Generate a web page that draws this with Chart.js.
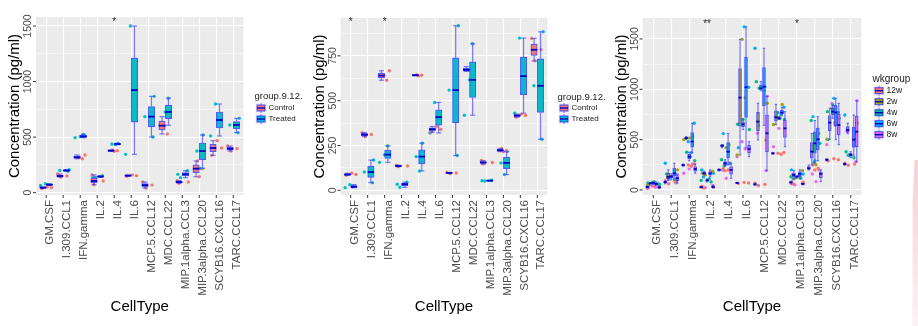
<!DOCTYPE html>
<html>
<head>
<meta charset="utf-8">
<script src="https://cdn.jsdelivr.net/npm/chart.js@4.4.1/dist/chart.umd.min.js"></script>
<style>
  html, body { margin: 0; padding: 0; background: #fff; }
  #wrap { position: relative; width: 918px; height: 326px; overflow: hidden; }
  #wrap canvas { position: absolute; top: 0; }
  #edge { position: absolute; left: 904px; top: 160px; width: 14px; height: 166px;
          background: linear-gradient(180deg, rgba(232,120,130,0.35), rgba(236,205,220,0.25));
          clip-path: polygon(75% 0, 100% 0, 100% 100%, 60% 100%, 62% 25%); }
</style>
</head>
<body>
<div id="wrap">
  <canvas id="c1" width="306" height="326" style="left:0"></canvas>
  <canvas id="c2" width="306" height="326" style="left:306px"></canvas>
  <canvas id="c3" width="306" height="326" style="left:612px"></canvas>
  <div id="edge"></div>
</div>
<script>
const cellTypes = ['GM.CSF', 'I.309.CCL1', 'IFN.gamma', 'IL.2', 'IL.4', 'IL.6', 'MCP.5.CCL12',
  'MDC.CCL22', 'MIP.1alpha.CCL3', 'MIP.3alpha.CCL20', 'SCYB16.CXCL16', 'TARC.CCL17'];

// first panel (group.9.12.), three samples per cell type
const control1 = [[38, 45, 52], [140, 150, 168], [305, 318, 339], [72, 105, 160], [372, 378, 384], [148, 153, 160],
  [42, 68, 96], [528, 603, 684], [84, 96, 108], [144, 216, 285], [336, 402, 468], [375, 396, 420]];
const treated1 = [[65, 72, 80], [193, 200, 207], [495, 505, 525], [138, 145, 153], [432, 438, 444], [345, 923, 1500],
  [501, 684, 867], [607, 726, 850], [135, 165, 198], [219, 375, 519], [510, 654, 798], [540, 609, 669]];
const signif1 = ['', '', '', '', '*', '', '', '', '', '', '', ''];

// second panel (group.9.12.)
const control2 = [[84, 88, 95], [300, 311, 322], [614, 640, 667], [132, 136, 140], [639, 642, 645], [324, 341, 356],
  [94, 97, 100], [663, 672, 690], [147, 155, 166], [216, 223, 233], [408, 417, 425], [722, 784, 847]];
const treated2 = [[15, 20, 32], [43, 102, 169], [156, 199, 248], [17, 34, 45], [108, 188, 263], [320, 408, 490],
  [194, 559, 918], [419, 616, 817], [52, 54, 56], [88, 153, 216], [430, 637, 849], [285, 583, 884]];
const signif2 = ['*', '', '*', '', '', '', '', '', '', '', '', ''];

// third panel (wkgroup)
const w12 = [[22, 30, 40], [62, 78, 90], [235, 248, 258], [20, 28, 36], [190, 199, 210], [65, 70, 75],
  [45, 56, 66], [355, 364, 372], [60, 76, 80], [199, 215, 248], [290, 300, 310], [245, 258, 265]];
const w2 = [[50, 66, 75], [95, 130, 200], [500, 515, 530], [150, 165, 185], [420, 440, 450], [348, 917, 1496],
  [497, 679, 861], [650, 722, 850], [115, 149, 192], [250, 381, 560], [503, 669, 811], [560, 596, 662]];
const w4 = [[55, 70, 80], [100, 132, 160], [290, 331, 375], [80, 95, 110], [238, 265, 300], [600, 652, 700],
  [986, 1010, 1076], [700, 712, 725], [119, 132, 140], [270, 463, 690], [712, 778, 844], [320, 348, 380]];
const w6 = [[45, 60, 80], [116, 165, 265], [371, 480, 662], [130, 165, 199], [250, 381, 560], [420, 1020, 1620],
  [642, 1026, 1407], [745, 768, 821], [110, 159, 200], [291, 503, 728], [500, 770, 910], [345, 500, 745]];
const w8 = [[15, 26, 40], [70, 116, 150], [166, 209, 258], [22, 30, 45], [116, 199, 265], [331, 407, 480],
  [192, 563, 930], [430, 612, 778], [52, 60, 66], [83, 159, 200], [450, 645, 860], [281, 579, 887]];
const signif3 = ['', '', '', '**', '', '', '', '', '*', '', '', ''];

const yTicks1 = [0, 500, 1000, 1500];
const yTicks2 = [0, 250, 500, 750];
const yTicks3 = [0, 500, 1000, 1500];

// horizontal spread of the sample dots around each cell type
const JITTER = [-0.26, 0.31, 0.06, -0.14, 0.22, -0.33, 0.12, -0.05, 0.28, -0.2, 0.35, -0.3, 0.0, 0.18, -0.1];

Chart.defaults.font.family = '"Liberation Sans", Arial, sans-serif';

function quantile(s, p) {
  const h = (s.length - 1) * p, lo = Math.floor(h), hi = Math.min(lo + 1, s.length - 1);
  return s[lo] + (h - lo) * (s[hi] - s[lo]);
}

function boxStats(obs) {
  const s = obs.slice().sort((a, b) => a - b);
  return { min: s[0], q1: quantile(s, 0.25), med: quantile(s, 0.5), q3: quantile(s, 0.75), max: s[s.length - 1] };
}

function line(ctx, x1, y1, x2, y2) {
  ctx.beginPath(); ctx.moveTo(x1, y1); ctx.lineTo(x2, y2); ctx.stroke();
}

function makeDecor(p) {
  return {
    id: 'decor',
    beforeDraw(chart) {
      const { ctx, chartArea: a } = chart;
      ctx.save();
      ctx.fillStyle = '#EBEBEB';
      ctx.fillRect(a.left, a.top, a.right - a.left, a.bottom - a.top);
      ctx.restore();
    },
    afterDatasetDraw(chart, args) {
      const ds = chart.data.datasets[args.index];
      if (!ds.stats) return;
      const { ctx } = chart, y = chart.scales.y;
      ctx.save();
      args.meta.data.forEach((bar, i) => {
        const st = ds.stats[i];
        const { x, width } = bar.getProps(['x', 'width'], true);
        const hw = width / 2;
        ctx.strokeStyle = 'rgba(70,70,255,0.7)';
        ctx.lineWidth = 1.2;
        line(ctx, x, y.getPixelForValue(st.q3), x, y.getPixelForValue(st.max));
        line(ctx, x, y.getPixelForValue(st.q1), x, y.getPixelForValue(st.min));
        line(ctx, x - hw * 0.8, y.getPixelForValue(st.max), x + hw * 0.8, y.getPixelForValue(st.max));
        line(ctx, x - hw * 0.8, y.getPixelForValue(st.min), x + hw * 0.8, y.getPixelForValue(st.min));
        ctx.strokeStyle = '#0000C8';
        ctx.lineWidth = 1.8;
        const my = y.getPixelForValue(st.med);
        line(ctx, x - hw, my, x + hw, my);
      });
      ctx.restore();
    },
    afterDraw(chart) {
      const { ctx, chartArea: a } = chart;
      const x = chart.scales.x, y = chart.scales.y;
      ctx.save();
      // axis ticks
      ctx.strokeStyle = '#333';
      ctx.lineWidth = 1;
      p.yTicks.forEach(v => { const py = y.getPixelForValue(v); line(ctx, a.left - 3, py, a.left, py); });
      cellTypes.forEach((c, i) => { const px = x.getPixelForValue(i + 1); line(ctx, px, a.bottom, px, a.bottom + 3); });
      // y tick labels, rotated
      ctx.fillStyle = '#4D4D4D';
      ctx.font = p.yLabelSize + 'px "Liberation Sans"';
      ctx.textAlign = 'center';
      ctx.textBaseline = 'alphabetic';
      p.yTicks.forEach(v => {
        ctx.save();
        ctx.translate(a.left - 5, y.getPixelForValue(v));
        ctx.rotate(-Math.PI / 2);
        ctx.fillText(String(v), 0, 0);
        ctx.restore();
      });
      // axis titles
      ctx.fillStyle = '#000';
      ctx.font = '15px "Liberation Sans"';
      ctx.textBaseline = 'middle';
      ctx.save();
      ctx.translate(a.left - 21, (a.top + a.bottom) / 2);
      ctx.rotate(-Math.PI / 2);
      ctx.fillText('Concentration (pg/ml)', 0, 0);
      ctx.restore();
      ctx.fillText('CellType', (a.left + a.right) / 2, 307);
      // significance marks
      ctx.font = '10px "Liberation Sans"';
      ctx.fillStyle = '#222';
      p.signif.forEach((s, i) => {
        if (s) ctx.fillText(s, x.getPixelForValue(i + 1), y.getPixelForValue(p.signifY));
      });
      // legend
      const L = p.legend;
      const lx = a.right + L.dx;
      ctx.textAlign = 'left';
      ctx.font = L.titleSize + 'px "Liberation Sans"';
      ctx.fillText(L.title, lx, L.titleY);
      ctx.font = L.textSize + 'px "Liberation Sans"';
      p.groups.forEach((g, i) => {
        const ky = L.keyY + i * L.keyStep;
        const kx = lx + 1;
        ctx.fillStyle = '#F2F2F2';
        ctx.fillRect(kx, ky - 5.5, 11, 11);
        ctx.strokeStyle = 'rgba(70,70,255,0.7)';
        ctx.lineWidth = 1;
        line(ctx, kx + 5.5, ky - 5, kx + 5.5, ky + 5);
        ctx.fillStyle = g.color;
        ctx.fillRect(kx + 1.5, ky - 3, 8, 6);
        ctx.strokeStyle = 'rgba(50,50,255,0.85)';
        ctx.strokeRect(kx + 1.5, ky - 3, 8, 6);
        ctx.strokeStyle = '#0000C8';
        ctx.lineWidth = 1.4;
        line(ctx, kx + 1.5, ky, kx + 9.5, ky);
        ctx.fillStyle = '#1a1a1a';
        ctx.fillText(g.name, lx + L.textDx, ky);
      });
      ctx.restore();
    }
  };
}

function makePanel(id, p) {
  const canvas = document.getElementById(id);
  const datasets = [];
  // dots first so the boxes sit on top of them
  p.groups.forEach((g, gi) => {
    datasets.push({
      type: 'scatter', order: 2, label: g.name,
      data: g.obs.flatMap((o, i) => o.map((v, k) => ({
        x: i + 1 + JITTER[(i * 3 + gi * 5 + k) % JITTER.length],
        y: v
      }))),
      pointRadius: 1.7, pointBackgroundColor: g.color, pointBorderWidth: 0
    });
  });
  p.groups.forEach(g => {
    const stats = g.obs.map(boxStats);
    datasets.push({
      type: 'bar', order: 1, label: g.name, stats,
      data: stats.map((s, i) => ({ x: i + 1, y: [s.q1, s.q3] })),
      backgroundColor: g.color, borderColor: 'rgba(50,50,255,0.8)', borderWidth: 1.2,
      borderSkipped: false, barThickness: p.boxPx, grouped: true
    });
  });
  return new Chart(canvas, {
    type: 'bar',
    data: { datasets },
    options: {
      responsive: false, animation: false, events: [],
      layout: { padding: { left: 0, top: p.area.top, right: canvas.width - p.area.right, bottom: 0 } },
      plugins: { legend: { display: false }, tooltip: { enabled: false } },
      scales: {
        x: {
          type: 'linear', min: 0.4, max: 12.6, offset: false,
          afterBuildTicks: s => { s.ticks = cellTypes.map((c, i) => ({ value: i + 1 })); },
          afterFit: s => { s.height = canvas.height - p.area.bottom; },
          grid: { color: '#fff', lineWidth: 1.1, drawTicks: false, offset: false },
          border: { display: false },
          ticks: {
            autoSkip: false, minRotation: 90, maxRotation: 90, padding: 5, labelOffset: 4,
            color: '#4D4D4D', font: { size: 11.5 }, callback: v => cellTypes[v - 1]
          }
        },
        y: {
          type: 'linear', min: p.yMin, max: p.yMax,
          afterBuildTicks: s => {
            const t = [];
            for (let v = 0; v <= p.yMax; v += p.yMinor) t.push({ value: v });
            s.ticks = t;
          },
          afterFit: s => { s.width = p.area.left; },
          grid: {
            color: '#fff', drawTicks: false,
            lineWidth: c => (c.tick && c.tick.value % p.yMajor === 0) ? 1.1 : 0.5
          },
          border: { display: false },
          ticks: { display: false }
        }
      }
    },
    plugins: [makeDecor(p)]
  });
}

makePanel('c1', {
  area: { left: 36, right: 243.5, top: 17, bottom: 195 },
  yMin: -21, yMax: 1581, yMinor: 250, yMajor: 500, yTicks: yTicks1, yLabelSize: 10.5,
  boxPx: 6.4, signif: signif1, signifY: 1530,
  groups: [{ name: 'Control', color: '#F8766D', obs: control1 }, { name: 'Treated', color: '#00BFC4', obs: treated1 }],
  legend: { title: 'group.9.12.', dx: 11, titleY: 96, keyY: 108, keyStep: 11, titleSize: 9.5, textSize: 8, textDx: 14 }
});

makePanel('c2', {
  area: { left: 34.5, right: 241.5, top: 18, bottom: 195 },
  yMin: -26, yMax: 961, yMinor: 125, yMajor: 250, yTicks: yTicks2, yLabelSize: 10.5,
  boxPx: 6.4, signif: signif2, signifY: 935,
  groups: [{ name: 'Control', color: '#F8766D', obs: control2 }, { name: 'Treated', color: '#00BFC4', obs: treated2 }],
  legend: { title: 'group.9.12.', dx: 10, titleY: 97, keyY: 108, keyStep: 11, titleSize: 9.5, textSize: 8, textDx: 14 }
});

makePanel('c3', {
  area: { left: 30.5, right: 249.5, top: 18, bottom: 195 },
  yMin: -50, yMax: 1708, yMinor: 250, yMajor: 500, yTicks: yTicks3, yLabelSize: 10.5,
  boxPx: 3, signif: signif3, signifY: 1650,
  groups: [
    { name: '12w', color: '#F8766D', obs: w12 }, { name: '2w', color: '#A3A500', obs: w2 },
    { name: '4w', color: '#00BF7D', obs: w4 }, { name: '6w', color: '#00B0F6', obs: w6 },
    { name: '8w', color: '#E76BF3', obs: w8 }
  ],
  legend: { title: 'wkgroup', dx: 11, titleY: 79, keyY: 90.7, keyStep: 11, titleSize: 10, textSize: 8.5, textDx: 14 }
});
</script>
</body>
</html>
